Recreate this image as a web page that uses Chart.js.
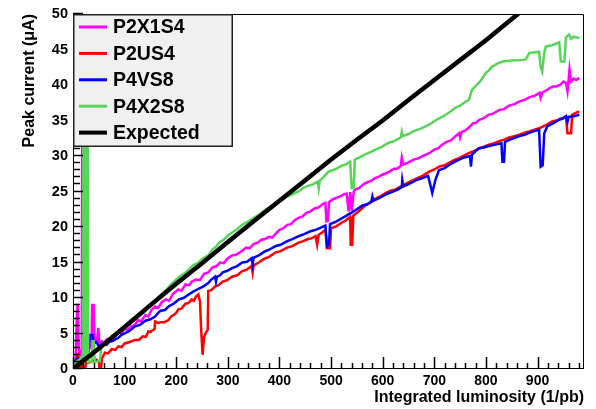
<!DOCTYPE html>
<html>
<head>
<meta charset="utf-8">
<script src="https://cdn.jsdelivr.net/npm/chart.js@4.4.1/dist/chart.umd.min.js"></script>
<style>
  html, body { margin: 0; padding: 0; background: #fff; }
  #wrap { width: 596px; height: 409px; }
</style>
</head>
<body>
<div id="wrap"><canvas id="c" width="596" height="409"></canvas></div>
<script>
// Peak current versus integrated luminosity, one trace per chamber type.
const seriesNames = ['P2X1S4', 'P2US4', 'P4VS8', 'P4X2S8', 'Expected'];
const seriesColors = ['#ff00ff', '#ff0000', '#0000ff', '#58d458', '#000000'];

const xTickLabels = [0, 100, 200, 300, 400, 500, 600, 700, 800, 900];
const yTickLabels = [0, 5, 10, 15, 20, 25, 30, 35, 40, 45, 50];

// [integrated luminosity (1/pb), peak current (uA)]
const P2X1S4 = [
  [0,0.8],[5,1.2],[7,6.5],[9,9.2],[11,3.0],[14,2.0],[17,2.5],[17.8,34],[18.4,34],[19,2.0],
  [26,2.2],[30,2.6],[36,3.5],[37,9.0],[40,9.0],[42,4.0],[46,3.8],[49,5.8],[51,3.5],[56,3.9],
  [60,3.7],[66,4.2],[70,4.0],[75,4.6],[80,4.4],[88,5.2],[94,5.0],[100,5.7],[106,5.5],[113,6.0],
  [120,6.2],[126,6.9],[132,6.7],[140,7.6],[146,7.4],[152,8.3],[159,8.8],[165,8.6],[172,9.4],
  [180,9.8],[186,9.6],[194,10.6],[204,11.2],[210,11.0],[218,11.9],[225,11.8],[230,12.3],
  [238,12.6],[246,12.5],[254,13.4],[262,13.6],[270,14.3],[278,14.5],[285,15.0],[292,14.9],
  [300,15.6],[308,16.0],[316,16.1],[327,16.6],[335,17.1],[342,17.0],[350,17.6],[358,17.8],
  [365,18.2],[372,18.3],[380,18.6],[386,18.5],[392,19.0],[400,19.6],[407,19.8],[415,20.3],
  [422,20.4],[430,21.0],[437,21.3],[445,21.5],[452,22.0],[460,22.2],[468,22.6],[474,22.7],
  [480,23.0],[485,23.3],[489,23.4],[491,20.8],[494,20.9],[496,23.5],[503,23.9],[510,24.1],
  [518,24.3],[524,24.6],[530,24.7],[534,22.2],[537,24.9],[540,22.3],[544,25.0],[547,25.3],
  [555,25.5],[562,26.0],[570,26.3],[578,26.5],[585,26.9],[593,27.1],[600,27.4],[608,27.6],
  [615,27.9],[622,28.2],[628,28.2],[635,28.6],[637,29.8],[640,28.8],[650,29.1],[660,29.5],
  [670,29.7],[680,30.1],[690,30.4],[700,30.9],[708,31.1],[715,31.6],[724,32.0],[732,32.2],
  [741,32.8],[748,33.2],[750,32.6],[753,33.4],[760,33.6],[767,34.0],[775,34.6],[781,34.7],
  [787,35.1],[795,35.3],[805,35.8],[815,36.0],[826,36.5],[835,36.6],[845,37.1],[855,37.3],
  [865,37.7],[875,37.9],[885,38.3],[895,38.5],[904,38.9],[906,38.2],[909,38.9],[918,39.3],
  [929,39.8],[937,39.8],[945,40.1],[950,40.5],[955,40.3],[958,39.1],[960,40.6],[962,42.2],
  [965,40.5],[970,40.9],[975,40.7],[981,41.0]
];

const P2US4 = [
  [0,0.3],[5,0.5],[8,1.8],[10,2.0],[12,0.5],[14,-1],[16,0.8],[20,0.3],[22,-1],[25,0.8],
  [35,1.0],[45,1.3],[50,1.0],[53,-1],[56,1.5],[62,2.3],[68,2.2],[75,2.8],[82,2.7],[88,3.2],
  [94,3.1],[100,3.6],[110,3.8],[120,4.1],[128,4.1],[135,4.6],[141,4.5],[146,5.3],[150,5.2],
  [155,5.5],[158,5.6],[159,6.7],[165,6.5],[170,6.6],[177,6.6],[185,6.9],[190,7.4],[195,7.6],
  [200,7.9],[204,8.4],[210,8.5],[218,9.2],[224,9.3],[230,9.8],[234,9.6],[238,10.2],[243,10.5],
  [246,9.5],[248,6.0],[251,2.0],[254,4.5],[258,5.2],[261,5.5],[262,11.0],[268,11.1],[275,11.6],
  [282,11.8],[290,12.3],[298,12.5],[308,13.0],[318,13.2],[328,13.8],[337,14.0],[346,14.5],
  [348,13.6],[350,14.6],[360,15.0],[370,15.5],[380,15.8],[392,16.4],[402,16.6],[415,17.1],
  [425,17.3],[437,17.8],[446,18.0],[455,18.3],[462,18.4],[470,18.7],[473,17.5],[476,18.9],
  [482,19.2],[489,19.6],[492,17.0],[498,17.0],[500,19.8],[510,20.1],[520,20.6],[528,20.9],
  [537,21.4],[538,17.5],[541,17.5],[543,21.6],[550,22.0],[558,22.5],[567,23.1],[576,23.4],
  [586,24.0],[595,24.3],[606,24.8],[615,25.1],[625,25.3],[637,25.8],[650,26.3],[665,26.8],
  [677,27.2],[690,27.8],[700,28.1],[709,28.5],[720,28.7],[730,29.1],[740,29.5],[748,29.7],
  [758,30.1],[770,30.5],[778,30.7],[787,31.1],[796,31.3],[806,31.6],[816,31.8],[826,32.1],
  [835,32.3],[845,32.6],[855,32.8],[865,33.0],[875,33.3],[885,33.5],[894,33.7],[903,33.9],
  [915,34.3],[922,34.6],[929,34.9],[937,35.0],[945,35.3],[950,35.4],[955,35.6],[958,33.2],
  [965,33.2],[967,35.8],[975,36.1],[981,36.3]
];

const P4VS8 = [
  [0,1.0],[5,1.2],[10,1.5],[15,1.3],[20,2.0],[25,1.8],[30,2.5],[33,4.8],[38,4.8],[40,3.5],
  [45,3.8],[50,3.2],[60,3.5],[65,3.4],[70,3.8],[78,4.0],[88,4.4],[94,4.8],[100,5.0],[110,5.4],
  [120,6.0],[130,6.2],[140,6.8],[150,7.0],[159,7.4],[165,7.9],[170,8.2],[178,8.3],[185,8.8],
  [195,9.2],[205,9.8],[214,10.0],[224,10.5],[233,10.9],[243,11.3],[252,11.6],[262,12.1],
  [268,12.6],[275,13.0],[277,12.3],[279,13.0],[285,13.2],[290,13.6],[298,13.8],[308,14.2],
  [318,14.5],[328,15.0],[337,15.1],[346,15.6],[348,14.7],[350,15.7],[360,16.0],[370,16.5],
  [380,16.8],[392,17.3],[402,17.5],[415,18.0],[425,18.3],[437,18.7],[448,19.0],[460,19.4],
  [470,19.6],[480,19.9],[489,20.2],[492,17.3],[496,17.5],[498,20.4],[508,20.7],[520,21.2],
  [530,21.6],[541,22.1],[550,22.5],[560,23.0],[570,23.2],[578,23.6],[580,24.3],[582,23.7],
  [594,24.1],[606,24.6],[620,25.0],[630,25.3],[637,25.6],[638,26.6],[640,25.7],[652,26.1],
  [665,26.6],[677,26.9],[688,27.2],[692,26.0],[696,24.8],[702,26.6],[709,28.0],[720,28.3],
  [730,28.8],[740,29.2],[748,29.5],[758,29.8],[769,30.0],[771,28.5],[773,30.2],[780,30.7],
  [787,31.1],[796,31.2],[806,31.4],[818,31.6],[830,31.8],[832,29.2],[835,29.2],[837,32.0],
  [850,32.4],[865,32.8],[875,33.0],[885,33.3],[894,33.5],[903,33.7],[906,28.5],[910,28.7],
  [913,33.2],[919,34.2],[930,34.6],[942,35.1],[950,35.3],[955,35.6],[958,34.8],[960,35.5],
  [970,35.6],[981,35.8]
];

const P4X2S8 = [
  [0,0.6],[5,1.0],[10,1.2],[15,1.5],[19,2.0],[20.5,40],[22,1.0],[23.5,40],[25,1.0],[27,40],
  [28.5,40],[29.5,1.0],[33,1.1],[36,1.0],[38,3.9],[40,3.9],[42,1.0],[52,1.1],[55,3.2],
  [62,3.6],[70,4.0],[79,4.5],[88,5.2],[98,5.6],[110,6.4],[120,7.0],[130,7.6],[138,8.0],
  [145,8.6],[152,9.1],[159,9.6],[167,10.2],[175,10.8],[182,11.3],[190,11.9],[200,12.6],
  [210,13.2],[217,13.5],[224,14.0],[233,14.6],[243,15.0],[252,15.6],[262,16.0],[270,16.8],
  [278,17.3],[285,17.9],[292,18.2],[300,18.8],[308,19.2],[316,19.6],[323,20.0],[330,20.4],
  [340,20.8],[350,21.3],[360,21.7],[372,22.4],[383,22.9],[395,23.5],[405,23.8],[415,24.3],
  [425,24.6],[437,25.0],[446,25.5],[455,25.8],[465,26.0],[474,26.4],[476,25.4],[478,26.5],
  [486,27.1],[495,27.8],[507,28.1],[520,28.6],[528,28.8],[537,29.2],[540,25.5],[544,25.6],
  [546,29.5],[555,29.8],[565,30.2],[575,30.5],[586,30.9],[598,31.3],[610,31.8],[622,32.1],
  [635,32.6],[637,33.4],[639,32.8],[650,33.1],[660,33.5],[675,33.9],[690,34.4],[702,35.0],
  [715,35.5],[728,36.1],[741,36.8],[750,37.1],[760,37.6],[767,37.9],[773,39.3],[782,40.0],
  [790,40.6],[800,41.7],[806,42.1],[812,42.6],[822,43.0],[832,43.3],[845,43.4],[855,43.5],
  [866,43.5],[877,43.6],[884,44.5],[895,44.6],[903,44.7],[906,42.5],[909,41.9],[913,44.5],
  [916,45.4],[928,45.6],[942,46.0],[945,43.3],[952,43.3],[955,46.7],[961,47.1],[965,46.5],
  [970,46.8],[981,46.6]
];

const Expected = [
  [0,0.0],[50,2.9],[100,5.9],[150,9.0],[200,12.0],[250,14.9],[300,17.9],[350,20.8],[400,23.7],
  [450,26.6],[500,29.5],[550,32.3],[600,35.0],[650,37.9],[700,40.7],[750,43.5],[800,46.3],
  [862,50.0],[880,51.0]
];

const seriesData = [P2X1S4, P2US4, P4VS8, P4X2S8, Expected];
const seriesWidths = [2.5, 2.5, 2.5, 2.5, 4.5];
const drawOrder = [4, 3, 2, 1, 0];

const FONT = "'Liberation Sans', Arial, Helvetica, sans-serif";

// Frame, inward tick marks and the boxed legend drawn in the plot area.
const frameAndLegend = {
  id: 'frameAndLegend',
  afterDatasetsDraw(chart) {
    const { ctx, chartArea: a, scales: { x, y } } = chart;
    ctx.save();
    ctx.strokeStyle = '#000';
    ctx.lineWidth = 1;
    ctx.beginPath();
    ctx.moveTo(a.left + 0.5, a.top + 0.5);
    ctx.lineTo(a.right - 0.5, a.top + 0.5);
    ctx.lineTo(a.right - 0.5, a.bottom - 0.5);
    ctx.moveTo(a.left + 0.5, a.top);
    ctx.lineTo(a.left + 0.5, a.bottom - 0.5);
    ctx.lineTo(a.right, a.bottom - 0.5);
    ctx.stroke();

    ctx.lineWidth = 1.5;
    ctx.beginPath();
    for (let v = 0; v <= x.max; v += 20) {
      const px = Math.round(x.getPixelForValue(v)) + 0.5;
      const len = v % 100 === 0 ? 12 : 6;
      ctx.moveTo(px, a.bottom);
      ctx.lineTo(px, a.bottom - len);
    }
    for (let v = 0; v <= y.max; v += 1) {
      const py = Math.round(y.getPixelForValue(v)) - 0.5;
      const len = v % 5 === 0 ? 10 : 7;
      ctx.moveTo(a.left, py);
      ctx.lineTo(a.left + len, py);
    }
    ctx.stroke();

    // legend box
    const bx = a.left, by = a.top, bw = 160, bh = 133;
    ctx.fillStyle = '#f0f0f0';
    ctx.fillRect(bx, by, bw, bh);
    ctx.strokeStyle = '#222';
    ctx.lineWidth = 1.5;
    ctx.strokeRect(bx + 0.75, by + 0.75, bw - 1.5, bh - 1.5);

    ctx.font = "bold 19.5px " + FONT;
    ctx.textBaseline = 'middle';
    ctx.textAlign = 'left';
    chart.data.datasets.forEach((ds, i) => {
      const cy = by + 13 + i * 26.4;
      ctx.strokeStyle = ds.borderColor;
      ctx.lineWidth = i === 4 ? 4 : 3;
      ctx.beginPath();
      ctx.moveTo(bx + 6, cy);
      ctx.lineTo(bx + 34, cy);
      ctx.stroke();
      ctx.fillStyle = '#000';
      ctx.fillText(ds.label, bx + 40, cy + 1);
    });
    ctx.restore();
  }
};

new Chart(document.getElementById('c'), {
  type: 'line',
  data: {
    datasets: seriesNames.map((name, i) => ({
      label: name,
      data: seriesData[i].map(p => ({ x: p[0], y: p[1] })),
      borderColor: seriesColors[i],
      backgroundColor: seriesColors[i],
      borderWidth: seriesWidths[i],
      pointRadius: 0,
      tension: 0,
      fill: false,
      order: drawOrder[i],
      borderJoinStyle: 'miter'
    }))
  },
  options: {
    responsive: false,
    devicePixelRatio: 1,
    animation: false,
    layout: { padding: { left: 0, top: 14, right: 12, bottom: 0 } },
    plugins: { legend: { display: false }, tooltip: { enabled: false } },
    scales: {
      x: {
        type: 'linear',
        min: 0,
        max: 990,
        afterFit(s) { s.height = 40; },
        afterBuildTicks(s) { s.ticks = xTickLabels.map(v => ({ value: v })); },
        grid: { display: false, drawTicks: false },
        border: { display: false },
        ticks: {
          padding: 4,
          color: '#000',
          maxRotation: 0,
          autoSkip: false,
          font: { family: FONT, size: 14, weight: 'bold' }
        },
        title: {
          display: true,
          text: 'Integrated luminosity (1/pb)',
          align: 'end',
          color: '#000',
          padding: { top: 1.5, bottom: 1.5 },
          font: { family: FONT, size: 16, weight: 'bold' }
        }
      },
      y: {
        type: 'linear',
        min: 0,
        max: 50,
        afterFit(s) { s.width = 73; },
        afterBuildTicks(s) { s.ticks = yTickLabels.map(v => ({ value: v })); },
        grid: { display: false, drawTicks: false },
        border: { display: false },
        ticks: {
          padding: 5,
          color: '#000',
          autoSkip: false,
          font: { family: FONT, size: 14.5, weight: 'bold' }
        },
        title: {
          display: true,
          text: 'Peak current (μA)',
          align: 'end',
          color: '#000',
          padding: { top: 20, bottom: 0 },
          font: { family: FONT, size: 16, weight: 'bold' }
        }
      }
    }
  },
  plugins: [frameAndLegend]
});
</script>
</body>
</html>
